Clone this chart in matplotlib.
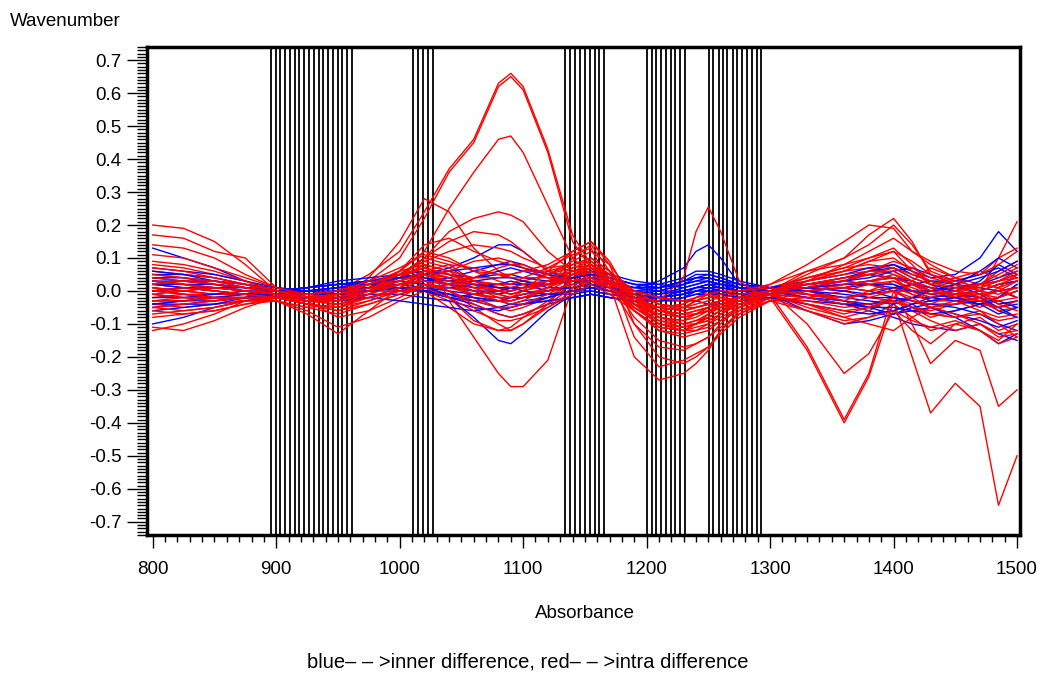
"""Spectral difference curves (inner vs intra) with selected wavenumber bands."""
import matplotlib
matplotlib.use("Agg")
import matplotlib.pyplot as plt
from matplotlib.ticker import MultipleLocator, FuncFormatter

# common wavenumber grid the curves are read at
X = [800, 825, 850, 875, 900, 925, 950, 975, 1000, 1020,
     1040, 1060, 1080, 1090, 1100, 1120, 1140, 1155, 1170, 1190,
     1210, 1230, 1240, 1250, 1260, 1275, 1300, 1330, 1360, 1380,
     1400, 1415, 1430, 1450, 1470, 1485, 1500]

# selected bands (vertical lines)
VLINES = [895.7, 899.6, 903.4, 907.3, 911.1, 915.0, 918.8, 922.7, 926.6, 930.4,
          934.3, 938.1, 942.0, 945.8, 949.7, 953.6, 957.4, 961.3,
          1010.8, 1014.8, 1018.9, 1022.9, 1027.0,
          1134.1, 1138.2, 1141.9, 1145.7, 1150.0, 1153.8, 1157.8, 1161.3, 1165.1,
          1200.2, 1204.0, 1208.0, 1211.8, 1215.3, 1219.9, 1223.1, 1226.9, 1231.3,
          1250.3, 1254.1, 1258.4, 1261.9, 1265.4, 1269.7, 1273.3, 1277.3, 1281.1,
          1285.1, 1289.2, 1293.0]

# ---- red: intra difference ----
red_peak_a = [0.03, 0.02, 0.01, 0.00, -0.02, -0.03, -0.02, 0.03, 0.10, 0.22,
              0.36, 0.45, 0.62, 0.65, 0.61, 0.42, 0.15, 0.07, 0.02, -0.03,
              -0.05, -0.04, -0.02, 0.00, 0.00, -0.02, 0.00, 0.02, 0.03, 0.05,
              0.04, 0.00, -0.03, -0.02, 0.00, 0.02, 0.03]
red_peak_b = [0.05, 0.04, 0.02, 0.01, -0.01, -0.02, 0.00, 0.05, 0.12, 0.24,
              0.37, 0.46, 0.63, 0.66, 0.62, 0.43, 0.17, 0.08, 0.03, -0.02,
              -0.06, -0.05, -0.03, -0.01, 0.01, 0.00, 0.01, 0.04, 0.06, 0.07,
              0.05, 0.02, -0.01, 0.00, 0.02, 0.03, 0.05]
red_peak_c = [0.00, 0.01, 0.00, -0.01, -0.02, -0.03, -0.02, 0.01, 0.06, 0.12,
              0.25, 0.36, 0.46, 0.47, 0.42, 0.26, 0.10, 0.05, 0.01, -0.04,
              -0.06, -0.05, -0.03, -0.02, -0.02, -0.03, -0.01, 0.01, 0.02, 0.03,
              0.02, -0.01, -0.03, -0.03, -0.02, 0.00, 0.01]
red_peak_d = [0.02, 0.03, 0.02, 0.00, -0.02, -0.03, -0.03, 0.04, 0.15, 0.28,
              0.24, 0.13, 0.06, 0.04, 0.03, 0.02, 0.05, 0.08, 0.04, -0.04,
              -0.08, -0.09, -0.07, -0.05, -0.04, -0.03, 0.00, 0.02, 0.03, 0.05,
              0.06, 0.03, 0.00, 0.01, 0.02, 0.01, 0.03]
red_plateau = [-0.02, -0.01, -0.01, -0.01, -0.02, -0.04, -0.05, -0.01, 0.05, 0.10,
               0.18, 0.22, 0.24, 0.23, 0.21, 0.12, 0.06, 0.04, 0.01, -0.04,
               -0.07, -0.08, -0.07, -0.06, -0.05, -0.04, -0.02, -0.04, -0.08, -0.06,
               -0.02, -0.05, -0.08, -0.06, -0.04, -0.05, -0.03]
red_trough = [-0.04, -0.03, -0.02, -0.02, -0.01, 0.00, 0.01, 0.02, 0.00, 0.00,
              -0.03, -0.14, -0.25, -0.29, -0.29, -0.21, 0.01, 0.06, 0.03, -0.05,
              -0.10, -0.12, -0.10, -0.07, -0.04, -0.02, 0.00, 0.01, 0.00, -0.02,
              -0.03, -0.05, -0.06, -0.04, -0.03, -0.06, -0.05]
red_left_top = [0.20, 0.19, 0.15, 0.08, 0.00, -0.03, -0.02, 0.02, 0.06, 0.12,
                0.10, 0.06, 0.03, 0.02, 0.03, 0.05, 0.08, 0.10, 0.06, -0.03,
                -0.08, -0.10, -0.09, -0.08, -0.06, -0.03, 0.00, 0.06, 0.10, 0.14,
                0.20, 0.14, 0.06, 0.03, 0.05, 0.10, 0.13]
red_left_2 = [0.17, 0.16, 0.12, 0.10, 0.01, -0.02, -0.03, 0.00, 0.05, 0.10,
              0.08, 0.03, 0.01, 0.00, 0.01, 0.03, 0.06, 0.07, 0.03, -0.06,
              -0.11, -0.12, -0.11, -0.10, -0.07, -0.04, -0.01, 0.03, 0.08, 0.12,
              0.16, 0.12, 0.08, 0.04, 0.02, 0.06, 0.09]
red_left_3 = [0.14, 0.13, 0.10, 0.05, 0.01, -0.01, -0.02, 0.01, 0.04, 0.08,
              0.06, 0.02, -0.01, -0.02, -0.01, 0.01, 0.04, 0.06, 0.05, 0.00,
              -0.04, -0.06, -0.05, -0.04, -0.03, -0.02, 0.01, 0.04, 0.07, 0.10,
              0.13, 0.08, 0.02, -0.02, -0.05, -0.02, 0.02]
red_left_low1 = [-0.11, -0.12, -0.09, -0.05, -0.02, -0.03, -0.08, -0.06, -0.02, 0.02,
                 0.00, -0.05, -0.10, -0.12, -0.10, -0.04, 0.04, 0.07, 0.03, -0.08,
                 -0.15, -0.17, -0.16, -0.14, -0.11, -0.07, -0.02, -0.06, -0.10, -0.08,
                 -0.04, -0.08, -0.12, -0.10, -0.08, -0.12, -0.10]
red_left_low2 = [-0.12, -0.10, -0.07, -0.03, -0.01, -0.04, -0.06, -0.03, 0.00, 0.04,
                 0.02, -0.02, -0.05, -0.06, -0.05, -0.02, 0.03, 0.06, 0.02, -0.10,
                 -0.20, -0.22, -0.20, -0.17, -0.13, -0.08, -0.03, -0.03, -0.05, -0.04,
                 -0.02, -0.04, -0.07, -0.08, -0.06, -0.08, -0.07]
red_dip945 = [0.02, 0.01, 0.00, -0.01, -0.03, -0.07, -0.13, -0.06, 0.01, 0.05,
              0.04, 0.01, -0.02, -0.03, -0.02, 0.00, 0.04, 0.05, 0.02, -0.03,
              -0.06, -0.07, -0.06, -0.05, -0.04, -0.02, 0.00, 0.02, 0.01, 0.00,
              0.01, -0.01, -0.03, -0.02, -0.01, -0.02, 0.00]
red_dip945_b = [-0.04, -0.05, -0.04, -0.03, -0.03, -0.06, -0.11, -0.08, -0.03, 0.00,
                -0.05, -0.10, -0.12, -0.11, -0.08, -0.03, 0.02, 0.04, 0.01, -0.06,
                -0.12, -0.13, -0.12, -0.10, -0.08, -0.05, -0.02, 0.00, -0.03, -0.05,
                -0.03, -0.06, -0.09, -0.12, -0.10, -0.14, -0.13]
red_deep = [0.01, 0.00, -0.01, -0.01, -0.02, -0.03, -0.02, 0.00, 0.03, 0.06,
            0.04, 0.02, 0.00, -0.01, 0.00, 0.02, 0.05, 0.06, 0.02, -0.06,
            -0.11, -0.12, -0.10, -0.08, -0.06, -0.05, -0.02, -0.18, -0.40, -0.26,
            -0.03, -0.20, -0.37, -0.28, -0.35, -0.65, -0.50]
red_deep_b = [0.00, -0.01, -0.02, -0.02, -0.02, -0.02, -0.01, 0.01, 0.04, 0.07,
              0.05, 0.02, 0.01, 0.00, 0.01, 0.03, 0.06, 0.07, 0.03, -0.05,
              -0.10, -0.11, -0.10, -0.08, -0.06, -0.04, -0.01, -0.17, -0.39, -0.25,
              0.00, -0.10, -0.22, -0.15, -0.18, -0.35, -0.30]
red_mid_dip = [0.06, 0.05, 0.04, 0.02, -0.01, -0.03, -0.02, 0.01, 0.05, 0.09,
               0.07, 0.03, 0.00, -0.01, 0.00, 0.02, 0.06, 0.08, 0.04, -0.03,
               -0.08, -0.09, -0.08, -0.06, -0.05, -0.03, 0.00, -0.10, -0.25, -0.19,
               -0.06, -0.12, -0.16, -0.10, -0.12, -0.15, -0.10]
red_right_up = [-0.01, -0.02, -0.02, -0.01, -0.02, -0.02, -0.01, 0.01, 0.04, 0.10,
                0.15, 0.18, 0.17, 0.15, 0.12, 0.06, 0.04, 0.05, 0.02, -0.06,
                -0.12, -0.14, -0.13, -0.12, -0.09, -0.05, 0.00, 0.05, 0.10, 0.17,
                0.22, 0.15, 0.05, 0.02, 0.00, 0.10, 0.21]
red_right_up2 = [0.04, 0.03, 0.03, 0.02, 0.00, -0.02, -0.01, 0.02, 0.06, 0.14,
                 0.16, 0.12, 0.09, 0.08, 0.07, 0.05, 0.09, 0.12, 0.08, -0.02,
                 -0.06, -0.08, -0.07, -0.06, -0.05, -0.02, 0.02, 0.08, 0.15, 0.20,
                 0.19, 0.12, 0.09, 0.06, 0.05, 0.08, 0.12]
red_1250peak = [0.00, 0.00, 0.01, 0.00, -0.01, -0.02, -0.02, 0.00, 0.03, 0.06,
                0.05, 0.02, 0.01, 0.00, 0.01, 0.02, 0.04, 0.06, 0.03, -0.02,
                -0.03, 0.04, 0.18, 0.255, 0.18, 0.03, -0.03, -0.02, 0.00, 0.02,
                0.03, 0.01, -0.01, 0.00, 0.01, 0.03, 0.04]
red_1210dip_a = [-0.05, -0.06, -0.05, -0.03, -0.02, -0.03, -0.04, -0.01, 0.02, 0.05,
                 0.03, 0.00, -0.03, -0.04, -0.03, 0.01, 0.10, 0.14, 0.06, -0.14,
                 -0.23, -0.21, -0.19, -0.17, -0.12, -0.06, -0.02, 0.03, 0.05, 0.06,
                 0.06, 0.03, 0.00, -0.02, -0.03, -0.02, 0.00]
red_1210dip_b = [0.08, 0.07, 0.05, 0.03, 0.00, -0.02, -0.03, 0.00, 0.04, 0.08,
                 0.06, 0.04, 0.04, 0.05, 0.06, 0.08, 0.12, 0.15, 0.08, -0.10,
                 -0.17, -0.18, -0.16, -0.14, -0.10, -0.05, -0.01, 0.02, 0.04, 0.05,
                 0.07, 0.04, 0.02, 0.01, 0.02, 0.03, 0.05]
red_1210dip_c = [0.03, 0.02, 0.01, 0.00, -0.01, -0.02, -0.01, 0.02, 0.05, 0.07,
                 0.05, 0.03, 0.02, 0.02, 0.04, 0.07, 0.11, 0.13, 0.02, -0.20,
                 -0.27, -0.25, -0.22, -0.18, -0.12, -0.07, -0.03, 0.00, 0.02, 0.03,
                 0.04, 0.02, 0.00, -0.01, -0.01, 0.00, 0.01]
red_1160peak = [-0.03, -0.03, -0.02, -0.02, -0.02, -0.03, -0.03, 0.00, 0.02, 0.05,
                0.02, -0.01, -0.02, -0.02, 0.00, 0.06, 0.12, 0.15, 0.09, -0.04,
                -0.10, -0.11, -0.10, -0.08, -0.06, -0.04, -0.01, -0.02, -0.04, -0.02,
                0.00, -0.02, -0.05, -0.04, -0.02, -0.03, -0.02]
red_band_1 = [0.05, 0.04, 0.03, 0.01, -0.01, -0.03, -0.02, 0.01, 0.03, 0.05,
              0.03, 0.01, 0.00, 0.00, 0.01, 0.03, 0.05, 0.06, 0.03, -0.01,
              -0.04, -0.05, -0.04, -0.03, -0.02, -0.01, 0.00, 0.02, 0.04, 0.05,
              0.04, 0.02, 0.00, -0.01, 0.00, 0.02, 0.04]
red_band_2 = [-0.03, -0.02, -0.03, -0.02, -0.02, -0.04, -0.05, -0.02, 0.00, 0.02,
              0.00, -0.03, -0.05, -0.05, -0.04, -0.01, 0.03, 0.04, 0.01, -0.05,
              -0.09, -0.10, -0.09, -0.07, -0.05, -0.03, -0.01, -0.04, -0.06, -0.05,
              -0.03, -0.05, -0.07, -0.08, -0.07, -0.09, -0.08]
red_band_3 = [0.02, 0.03, 0.02, 0.01, 0.00, -0.01, 0.00, 0.03, 0.07, 0.11,
              0.09, 0.06, 0.05, 0.05, 0.06, 0.06, 0.08, 0.09, 0.05, 0.00,
              -0.02, -0.03, -0.02, -0.01, 0.00, 0.00, 0.02, 0.06, 0.08, 0.10,
              0.12, 0.06, 0.02, 0.04, 0.06, 0.04, 0.07]
red_band_4 = [-0.07, -0.06, -0.05, -0.03, -0.02, -0.03, -0.03, 0.00, 0.02, 0.03,
              0.00, -0.04, -0.07, -0.08, -0.07, -0.04, 0.01, 0.03, 0.00, -0.04,
              -0.07, -0.08, -0.07, -0.05, -0.04, -0.02, 0.00, -0.01, -0.02, -0.01,
              0.00, -0.03, -0.05, -0.03, -0.06, -0.10, -0.14]
red_band_5 = [0.01, -0.01, -0.02, -0.03, -0.03, -0.05, -0.04, -0.02, 0.01, 0.04,
              0.06, 0.09, 0.10, 0.09, 0.07, 0.04, 0.03, 0.04, 0.01, -0.03,
              -0.05, -0.06, -0.05, -0.04, -0.03, -0.02, 0.00, 0.01, 0.03, 0.06,
              0.09, 0.07, 0.04, 0.02, 0.00, -0.01, 0.01]
red_band_6 = [-0.01, 0.00, 0.01, 0.00, -0.01, -0.02, -0.03, -0.01, 0.02, 0.03,
              0.02, 0.00, -0.01, -0.02, -0.01, 0.00, 0.02, 0.03, 0.02, 0.00,
              -0.02, -0.03, -0.03, -0.02, -0.01, 0.00, 0.01, -0.01, -0.03, 0.00,
              0.03, 0.00, -0.02, 0.00, 0.02, 0.01, -0.02]
red_band_7 = [0.07, 0.06, 0.04, 0.02, 0.00, -0.02, -0.03, 0.00, 0.06, 0.08,
              -0.02, -0.09, -0.12, -0.12, -0.10, -0.05, 0.00, 0.03, 0.01, -0.03,
              -0.06, -0.07, -0.07, -0.06, -0.04, -0.03, 0.00, 0.03, 0.06, 0.09,
              0.12, 0.09, 0.05, 0.03, 0.01, 0.03, 0.06]
red_band_8 = [-0.05, -0.04, -0.03, -0.02, -0.02, -0.04, -0.05, -0.03, 0.00, 0.01,
              0.02, 0.04, 0.07, 0.08, 0.08, 0.05, 0.07, 0.08, 0.04, -0.02,
              -0.08, -0.10, -0.10, -0.09, -0.07, -0.04, -0.01, -0.05, -0.08, -0.10,
              -0.12, -0.08, -0.05, -0.07, -0.10, -0.13, -0.12]
red_band_9 = [0.09, 0.08, 0.06, 0.03, 0.00, -0.02, -0.01, 0.02, 0.05, 0.09,
              0.12, 0.14, 0.13, 0.12, 0.10, 0.07, 0.08, 0.10, 0.06, 0.00,
              -0.04, -0.05, -0.05, -0.04, -0.03, -0.02, 0.00, 0.03, 0.06, 0.09,
              0.10, 0.06, 0.03, 0.01, -0.01, 0.00, 0.03]
red_band_10 = [-0.08, -0.07, -0.06, -0.04, -0.03, -0.05, -0.07, -0.04, -0.01, 0.01,
               -0.02, -0.06, -0.09, -0.09, -0.08, -0.05, -0.01, 0.02, -0.01, -0.06,
               -0.11, -0.12, -0.12, -0.11, -0.09, -0.06, -0.03, -0.06, -0.09, -0.08,
               -0.06, -0.09, -0.11, -0.09, -0.12, -0.16, -0.14]
red_band_11 = [0.00, 0.01, 0.00, -0.01, -0.02, -0.03, -0.04, -0.02, 0.01, 0.06,
               0.08, 0.07, 0.05, 0.04, 0.04, 0.04, 0.06, 0.08, 0.05, -0.02,
               -0.05, -0.06, -0.05, -0.04, -0.03, -0.02, 0.00, 0.02, 0.03, 0.02,
               0.00, -0.03, -0.04, -0.01, 0.02, 0.05, 0.08]
red_band_12 = [0.03, 0.02, 0.00, -0.01, -0.02, -0.04, -0.06, -0.04, -0.01, 0.02,
               0.01, -0.01, -0.03, -0.03, -0.02, 0.01, 0.05, 0.07, 0.03, -0.02,
               -0.05, -0.04, -0.02, -0.01, -0.02, -0.03, -0.01, 0.00, 0.01, 0.03,
               0.05, 0.03, 0.01, -0.01, -0.03, -0.05, -0.03]
red_band_13 = [-0.06, -0.07, -0.06, -0.04, -0.02, -0.01, 0.00, 0.02, 0.05, 0.07,
               0.05, 0.03, 0.02, 0.01, 0.02, 0.03, 0.07, 0.09, 0.05, -0.01,
               -0.06, -0.07, -0.06, -0.05, -0.03, -0.02, 0.00, 0.04, 0.07, 0.08,
               0.07, 0.05, 0.03, 0.00, -0.02, 0.01, 0.05]
red_band_14 = [0.11, 0.10, 0.07, 0.04, 0.01, -0.01, -0.02, 0.00, 0.03, 0.06,
               0.04, 0.02, 0.00, -0.01, 0.00, 0.02, 0.05, 0.07, 0.04, -0.04,
               -0.09, -0.11, -0.10, -0.09, -0.07, -0.04, -0.01, -0.04, -0.07, -0.05,
               -0.02, 0.03, 0.07, 0.04, 0.00, -0.04, -0.06]

# ---- blue: inner difference ----
blue_left_top = [0.13, 0.10, 0.07, 0.03, 0.00, 0.00, 0.01, 0.02, 0.03, 0.02,
                 0.01, 0.00, 0.00, 0.01, 0.01, 0.02, 0.03, 0.04, 0.03, 0.01,
                 0.00, 0.02, 0.04, 0.05, 0.04, 0.02, 0.01, 0.02, 0.03, 0.02,
                 0.00, 0.00, -0.02, -0.01, 0.00, 0.02, 0.03]
blue_left_low = [-0.10, -0.08, -0.05, -0.03, -0.02, -0.02, -0.01, 0.00, 0.00, 0.00,
                 -0.02, -0.03, -0.03, -0.02, -0.02, -0.01, 0.00, 0.01, 0.00, -0.01,
                 -0.02, -0.01, 0.00, 0.00, 0.00, -0.01, 0.00, -0.02, -0.04, -0.06,
                 -0.08, -0.10, -0.11, -0.12, -0.10, -0.13, -0.15]
blue_trough = [0.00, -0.01, -0.02, -0.02, -0.02, -0.01, 0.00, 0.02, 0.03, 0.02,
               -0.02, -0.08, -0.15, -0.16, -0.13, -0.06, -0.01, 0.02, 0.00, -0.02,
               -0.03, -0.02, -0.01, -0.01, -0.01, 0.00, 0.00, -0.01, -0.03, -0.04,
               -0.06, -0.04, -0.02, -0.01, -0.02, -0.06, -0.08]
blue_peak_1090 = [0.03, 0.03, 0.02, 0.01, 0.00, 0.01, 0.02, 0.03, 0.04, 0.05,
                  0.07, 0.10, 0.14, 0.14, 0.12, 0.06, 0.03, 0.03, 0.01, -0.01,
                  -0.02, -0.01, 0.00, 0.01, 0.01, 0.00, 0.00, 0.01, 0.03, 0.06,
                  0.08, 0.06, 0.04, 0.05, 0.10, 0.18, 0.12]
blue_peak_1250 = [0.04, 0.04, 0.03, 0.02, 0.00, 0.01, 0.02, 0.03, 0.04, 0.04,
                  0.03, 0.02, 0.02, 0.02, 0.02, 0.02, 0.03, 0.03, 0.02, 0.01,
                  0.03, 0.07, 0.12, 0.14, 0.10, 0.02, 0.00, 0.00, 0.01, 0.02,
                  0.02, 0.00, -0.01, -0.02, -0.01, 0.00, 0.01]
blue_right_low = [-0.05, -0.04, -0.04, -0.03, -0.02, -0.01, 0.00, 0.00, 0.01, 0.00,
                  -0.01, -0.02, -0.03, -0.03, -0.02, -0.01, 0.00, 0.00, -0.01, -0.02,
                  -0.02, -0.01, 0.00, 0.00, -0.01, -0.02, -0.01, -0.06, -0.10, -0.09,
                  -0.07, -0.06, -0.05, -0.08, -0.12, -0.16, -0.13]
blue_band_1 = [0.05, 0.05, 0.04, 0.02, 0.00, 0.01, 0.02, 0.03, 0.05, 0.06,
               0.05, 0.04, 0.05, 0.05, 0.04, 0.03, 0.03, 0.04, 0.03, 0.01,
               0.01, 0.03, 0.05, 0.05, 0.04, 0.02, 0.01, 0.01, 0.02, 0.02,
               0.01, 0.00, 0.00, 0.01, 0.02, 0.04, 0.06]
blue_band_2 = [-0.02, -0.02, -0.02, -0.02, -0.02, -0.02, -0.02, -0.01, -0.01, -0.02,
               -0.03, -0.05, -0.06, -0.05, -0.04, -0.03, -0.02, -0.01, -0.02, -0.03,
               -0.03, -0.03, -0.03, -0.04, -0.04, -0.03, -0.02, -0.03, -0.04, -0.04,
               -0.03, -0.02, -0.02, -0.03, -0.04, -0.03, -0.05]
blue_band_3 = [0.02, 0.02, 0.01, 0.00, -0.01, 0.00, 0.01, 0.03, 0.04, 0.04,
               0.03, 0.04, 0.06, 0.07, 0.06, 0.04, 0.04, 0.05, 0.04, 0.02,
               0.01, 0.02, 0.03, 0.04, 0.03, 0.01, 0.00, -0.01, -0.02, -0.01,
               0.00, 0.02, 0.03, 0.02, 0.01, 0.00, -0.02]
blue_band_4 = [-0.04, -0.04, -0.03, -0.02, -0.01, -0.01, 0.00, 0.01, 0.02, 0.01,
               0.00, -0.01, -0.02, -0.02, -0.01, 0.00, 0.02, 0.03, 0.02, 0.00,
               -0.01, 0.01, 0.02, 0.03, 0.02, 0.00, 0.00, 0.02, 0.04, 0.05,
               0.04, 0.03, 0.01, 0.00, -0.02, -0.05, -0.08]
blue_band_5 = [0.01, 0.00, -0.01, -0.01, -0.01, -0.01, -0.01, 0.00, 0.01, 0.01,
               0.02, 0.03, 0.04, 0.04, 0.03, 0.01, 0.01, 0.02, 0.01, 0.00,
               0.00, 0.00, 0.01, 0.02, 0.02, 0.01, 0.00, 0.00, 0.01, 0.00,
               -0.02, -0.03, -0.04, -0.04, -0.03, -0.02, 0.00]
blue_band_6 = [0.03, 0.02, 0.02, 0.01, 0.00, -0.01, -0.01, 0.00, 0.01, 0.00,
               -0.02, -0.04, -0.07, -0.08, -0.07, -0.04, -0.02, -0.01, -0.02, -0.03,
               -0.02, 0.00, 0.01, 0.02, 0.01, 0.00, 0.01, 0.03, 0.05, 0.07,
               0.08, 0.05, 0.03, 0.03, 0.05, 0.07, 0.04]
blue_band_7 = [-0.06, -0.05, -0.04, -0.02, -0.01, -0.01, 0.00, 0.01, 0.01, 0.00,
               -0.01, -0.02, -0.03, -0.04, -0.04, -0.03, -0.02, -0.01, -0.02, -0.03,
               -0.03, -0.02, -0.01, 0.00, -0.01, -0.02, -0.01, -0.02, -0.03, -0.05,
               -0.07, -0.05, -0.04, -0.05, -0.07, -0.10, -0.12]
blue_band_8 = [0.04, 0.03, 0.03, 0.02, 0.01, 0.00, -0.01, 0.00, 0.02, 0.03,
               0.02, 0.00, -0.01, 0.00, 0.01, 0.02, 0.04, 0.05, 0.04, 0.02,
               0.02, 0.04, 0.06, 0.06, 0.05, 0.03, 0.01, 0.00, -0.02, -0.03,
               -0.04, -0.02, 0.00, 0.02, 0.04, 0.06, 0.09]
blue_band_9 = [-0.01, -0.02, -0.01, 0.00, 0.00, 0.01, 0.03, 0.04, 0.05, 0.04,
               0.02, 0.01, 0.02, 0.03, 0.02, 0.00, 0.01, 0.02, 0.01, -0.01,
               -0.02, -0.01, 0.01, 0.02, 0.01, 0.00, -0.01, 0.01, 0.03, 0.04,
               0.06, 0.07, 0.05, 0.02, -0.01, -0.04, -0.03]
blue_band_10 = [0.06, 0.05, 0.03, 0.01, 0.00, -0.02, -0.03, -0.02, 0.00, 0.01,
                -0.01, -0.03, -0.05, -0.05, -0.04, -0.02, 0.00, 0.01, 0.00, -0.01,
                0.00, 0.02, 0.03, 0.03, 0.02, 0.01, 0.00, -0.02, -0.04, -0.05,
                -0.05, -0.06, -0.07, -0.06, -0.04, -0.02, 0.02]
blue_band_11 = [-0.03, -0.03, -0.02, -0.01, 0.00, 0.00, 0.01, 0.01, 0.02, 0.03,
                0.04, 0.06, 0.08, 0.09, 0.08, 0.05, 0.03, 0.02, 0.01, 0.00,
                0.01, 0.03, 0.04, 0.04, 0.03, 0.02, 0.01, 0.02, 0.04, 0.06,
                0.07, 0.04, 0.02, 0.00, 0.03, 0.08, 0.05]
blue_band_12 = [0.02, 0.01, 0.00, -0.01, -0.02, -0.02, -0.02, -0.02, -0.03, -0.04,
                -0.05, -0.06, -0.05, -0.04, -0.03, -0.02, 0.00, 0.01, 0.00, -0.02,
                -0.03, -0.02, 0.00, 0.01, 0.00, -0.01, 0.00, 0.00, -0.01, -0.02,
                -0.02, -0.03, -0.05, -0.07, -0.09, -0.11, -0.09]
blue_band_13 = [0.00, 0.01, 0.01, 0.01, 0.00, 0.01, 0.02, 0.02, 0.01, 0.00,
                0.01, 0.02, 0.01, 0.01, 0.02, 0.03, 0.05, 0.06, 0.05, 0.03,
                0.02, 0.01, 0.02, 0.03, 0.02, 0.01, 0.00, 0.01, 0.00, -0.01,
                0.01, 0.02, 0.01, -0.01, -0.03, -0.05, -0.04]
blue_band_14 = [-0.04, -0.03, -0.03, -0.02, -0.02, -0.03, -0.02, 0.00, 0.01, 0.00,
                -0.02, -0.01, 0.00, 0.01, 0.00, -0.01, -0.01, 0.00, -0.01, -0.02,
                -0.01, 0.00, 0.01, 0.01, 0.00, -0.01, -0.02, -0.04, -0.06, -0.07,
                -0.06, -0.04, -0.03, -0.02, -0.04, -0.07, -0.05]
blue_band_15 = [0.07, 0.06, 0.05, 0.03, 0.01, 0.00, 0.00, 0.02, 0.04, 0.05,
                0.06, 0.07, 0.08, 0.08, 0.07, 0.05, 0.04, 0.05, 0.04, 0.02,
                0.01, 0.03, 0.04, 0.04, 0.03, 0.01, 0.00, 0.01, 0.02, 0.03,
                0.04, 0.02, 0.00, 0.02, 0.06, 0.10, 0.07]

BLUE_CURVES = [blue_left_top, blue_left_low, blue_trough, blue_peak_1090, blue_peak_1250,
               blue_right_low, blue_band_1, blue_band_2, blue_band_3, blue_band_4,
               blue_band_5, blue_band_6, blue_band_7, blue_band_8, blue_band_9,
               blue_band_10, blue_band_11, blue_band_12, blue_band_13, blue_band_14,
               blue_band_15]
RED_CURVES = [red_peak_a, red_peak_b, red_peak_c, red_peak_d, red_plateau, red_trough,
              red_left_top, red_left_2, red_left_3, red_left_low1, red_left_low2,
              red_dip945, red_dip945_b, red_deep, red_deep_b, red_mid_dip,
              red_right_up, red_right_up2, red_1250peak, red_1210dip_a, red_1210dip_b,
              red_1210dip_c, red_1160peak, red_band_1, red_band_2, red_band_3,
              red_band_4, red_band_5, red_band_6, red_band_7, red_band_8,
              red_band_9, red_band_10, red_band_11, red_band_12, red_band_13,
              red_band_14]

plt.rcParams["font.family"] = ["Liberation Sans", "DejaVu Sans"]
FS = 13.5

fig = plt.figure(figsize=(10.37, 6.73), dpi=100)
ax = fig.add_axes([0.1418, 0.2051, 0.8418, 0.7251])

for v in VLINES:
    ax.axvline(v, color="black", lw=1.3, zorder=1)

# interleave so neither colour sits entirely on top
for i in range(max(len(BLUE_CURVES), len(RED_CURVES))):
    if i < len(RED_CURVES):
        ax.plot(X, RED_CURVES[i], color="#ff0000", lw=1.0, zorder=2)
    if i < len(BLUE_CURVES):
        ax.plot(X, BLUE_CURVES[i], color="#0000ff", lw=1.0, zorder=2)

ax.set_xlim(795.4, 1502.4)
ax.set_ylim(-0.74, 0.74)
ax.xaxis.set_major_locator(MultipleLocator(100))
ax.xaxis.set_minor_locator(MultipleLocator(10))
ax.yaxis.set_major_locator(MultipleLocator(0.1))
ax.yaxis.set_minor_locator(MultipleLocator(0.01))
ax.yaxis.set_major_formatter(FuncFormatter(lambda v, _: f"{v:.1f}".replace("-0.0", "0.0")))

ax.tick_params(axis="x", which="major", direction="out", length=9.5, width=1, pad=9, labelsize=FS)
ax.tick_params(axis="x", which="minor", direction="out", length=5, width=1)
ax.tick_params(axis="y", which="major", direction="out", length=14.5, width=1, pad=4, labelsize=FS)
ax.tick_params(axis="y", which="minor", direction="out", length=7, width=1)
for s in ax.spines.values():
    s.set_linewidth(2.5)

fig.text(10 / 1037, 1 - 22 / 673, "Wavenumber", ha="left", va="center", fontsize=FS)
fig.text(585 / 1037, 1 - 613 / 673, "Absorbance", ha="center", va="center", fontsize=FS)
fig.text(528 / 1037, 1 - 662 / 673,
         "blue\u2013 \u2013 >inner difference, red\u2013 \u2013 >intra difference",
         ha="center", va="center", fontsize=14.5)

fig.savefig("out.png", dpi=100)
